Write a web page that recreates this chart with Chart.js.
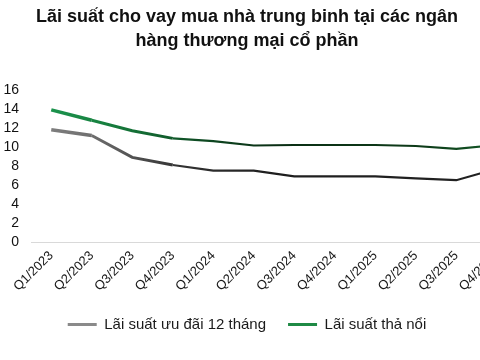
<!DOCTYPE html>
<html>
<head>
<meta charset="utf-8">
<script src="https://cdn.jsdelivr.net/npm/chart.js@4"></script>
<style>
    html, body { margin: 0; padding: 0; background: #fff; }
    body { width: 480px; height: 360px; overflow: hidden; position: relative; }
    #wrap { position: absolute; left: -23px; top: 0; width: 540px; height: 360px; }
</style>
</head>
<body>
<div id="wrap"><canvas id="graph" width="540" height="360"></canvas></div>
<script>
// Données
const quarters = ["Q1/2023", "Q2/2023", "Q3/2023", "Q4/2023", "Q1/2024", "Q2/2024",
    "Q3/2024", "Q4/2024", "Q1/2025", "Q2/2025", "Q3/2025", "Q4/2025"];
const uuDai12Thang = [11.8, 11.2, 8.9, 8.1, 7.5, 7.5, 6.9, 6.9, 6.9, 6.7, 6.5, 7.7];
const thaNoi = [13.9, 12.8, 11.7, 10.9, 10.6, 10.15, 10.2, 10.2, 10.2, 10.1, 9.8, 10.2];
const yTicks = [0, 2, 4, 6, 8, 10, 12, 14, 16];

const seriesNames = ["Lãi suất ưu đãi 12 tháng", "Lãi suất thả nổi"];
const legendColors = ["#8a8a8a", "#1f8a45"];

// Dégradé de couleur le long de la ligne
function gradient(ctx, stops) {
    const area = ctx.chart.chartArea;
    if (!area) return stops[0][1];
    const g = ctx.chart.ctx.createLinearGradient(area.left, 0, area.right, 0);
    stops.forEach(s => g.addColorStop(s[0], s[1]));
    return g;
}

const widthBySegment = ctx => ctx.p0DataIndex < 1 ? 3.5 : (ctx.p0DataIndex < 3 ? 3 : 2.2);

new Chart(document.getElementById("graph").getContext("2d"), {
    type: "line",
    data: {
        labels: quarters,
        datasets: [{
            label: seriesNames[0],
            data: uuDai12Thang,
            borderColor: ctx => gradient(ctx, [[0, "#858585"], [0.12, "#707070"], [0.3, "#333333"], [0.5, "#1e1e1e"], [1, "#222222"]]),
            backgroundColor: legendColors[0],
            borderWidth: 2.5,
            segment: { borderWidth: widthBySegment },
            pointRadius: 0,
            tension: 0
        }, {
            label: seriesNames[1],
            data: thaNoi,
            borderColor: ctx => gradient(ctx, [[0, "#1d9a52"], [0.15, "#17803f"], [0.35, "#0e4a22"], [0.5, "#0a2e14"], [0.8, "#0d3a18"], [1, "#14602a"]]),
            backgroundColor: legendColors[1],
            borderWidth: 2.5,
            segment: { borderWidth: widthBySegment },
            pointRadius: 0,
            tension: 0
        }]
    },
    options: {
        responsive: false,
        animation: false,
        layout: { padding: { top: 0, bottom: 18, left: 0, right: 0 } },
        scales: {
            x: {
                offset: true,
                grid: { display: false, drawTicks: false },
                border: { display: true, color: "#d9d9d9", width: 1 },
                ticks: {
                    color: "#1a1a1a",
                    font: { family: "Liberation Sans, Arial", size: 13 },
                    minRotation: 45,
                    maxRotation: 45,
                    autoSkip: false,
                    padding: 6
                },
                afterFit: scale => { scale.height = 53; }
            },
            y: {
                min: 0,
                max: 16,
                afterBuildTicks: scale => { scale.ticks = yTicks.map(v => ({ value: v })); },
                grid: { display: false, drawTicks: false },
                border: { display: false },
                ticks: {
                    color: "#111",
                    font: { family: "Liberation Sans, Arial", size: 14 },
                    padding: 12,
                    autoSkip: false
                },
                afterFit: scale => { scale.width = 54; }
            }
        },
        plugins: {
            title: {
                display: true,
                text: ["Lãi suất cho vay mua nhà trung binh tại các ngân", "hàng thương mại cổ phần"],
                color: "#111",
                font: { family: "Liberation Sans, Arial", size: 18, weight: "bold", lineHeight: 1.33 },
                padding: { top: 5, bottom: 37 }
            },
            legend: {
                position: "bottom",
                labels: {
                    color: "#1a1a1a",
                    font: { family: "Liberation Sans, Arial", size: 15 },
                    boxWidth: 29,
                    boxHeight: 3,
                    padding: 22,
                    generateLabels: chart => chart.data.datasets.map((ds, i) => ({
                        text: ds.label,
                        fillStyle: legendColors[i],
                        strokeStyle: legendColors[i],
                        lineWidth: 0,
                        fontColor: "#1a1a1a",
                        datasetIndex: i
                    }))
                }
            },
            tooltip: { enabled: false }
        }
    }
});
</script>
</body>
</html>
